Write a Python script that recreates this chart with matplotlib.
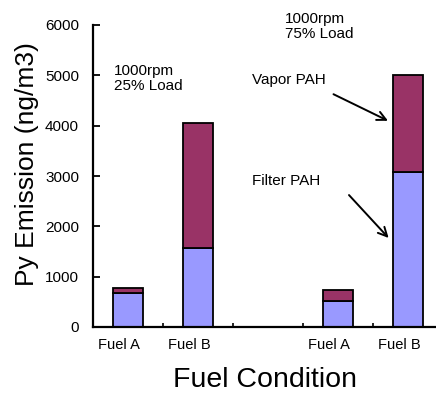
import numpy as np
import matplotlib
matplotlib.use('Agg')
import matplotlib.pyplot as plt
from matplotlib import transforms

# Data
slots = ['Fuel A', 'Fuel B', '', 'Fuel A', 'Fuel B']
filter_pah = [680, 1565, np.nan, 525, 3070]
vapor_pah = [90, 2495, np.nan, 210, 1940]
yticks = [0, 1000, 2000, 3000, 4000, 5000, 6000]

plt.rcParams['font.family'] = ['Liberation Sans', 'DejaVu Sans']

fig = plt.figure(figsize=(4.36, 3.94), dpi=100)
ax = fig.add_axes([93 / 436, 67 / 394, 350 / 436, 302 / 394])

x = np.arange(len(slots))
ax.bar(x, filter_pah, width=0.43, color='#9999FF', edgecolor='black', linewidth=1.3)
ax.bar(x, vapor_pah, width=0.43, bottom=filter_pah, color='#993366',
       edgecolor='black', linewidth=1.3)

ax.set_xlim(-0.5, 4.5)
ax.set_ylim(0, 6000)
ax.set_yticks(yticks)
ax.set_xticks(x, slots)
ax.set_xticks(np.arange(0.5, 4.5, 1.0), minor=True)
ax.tick_params(axis='x', which='major', length=0, pad=8, labelsize=10.5)
ax.tick_params(axis='x', which='minor', direction='in', length=3, width=1.2)
ax.tick_params(axis='y', direction='in', length=5, width=1.3, pad=10, labelsize=11)
shift = transforms.ScaledTranslation(-9 / 100, 0, fig.dpi_scale_trans)
for lab in ax.get_xticklabels():
    lab.set_transform(lab.get_transform() + shift)
for s in ['top', 'right']:
    ax.spines[s].set_visible(False)
for s in ['left', 'bottom']:
    ax.spines[s].set_linewidth(1.6)
ax.spines['bottom'].set_clip_on(False)

ax.set_xlabel('Fuel Condition', fontsize=20.5, va='center')
ax.xaxis.set_label_coords(0.49, -53 / 302)
ax.set_ylabel('Py Emission (ng/m3)', fontsize=19, va='center')
ax.yaxis.set_label_coords(-66 / 350, 163 / 302)

ax.text(-0.2, 5225, '1000rpm\n25% Load', fontsize=11, va='top', linespacing=1.05)
ax.text(2.243, 6258, '1000rpm\n75% Load', fontsize=11, va='top', linespacing=1.05,
        clip_on=False)

arrow = dict(arrowstyle='->', color='black', lw=1.4, mutation_scale=16)
ax.text(1.77, 4907, 'Vapor PAH', fontsize=11, va='center')
ax.annotate('', xy=(3.75, 4073), xytext=(2.9, 4649), arrowprops=arrow)
ax.text(1.77, 2901, 'Filter PAH', fontsize=11, va='center')
ax.annotate('', xy=(3.75, 1728), xytext=(3.13, 2662), arrowprops=arrow)

fig.savefig('out.png', dpi=100)
